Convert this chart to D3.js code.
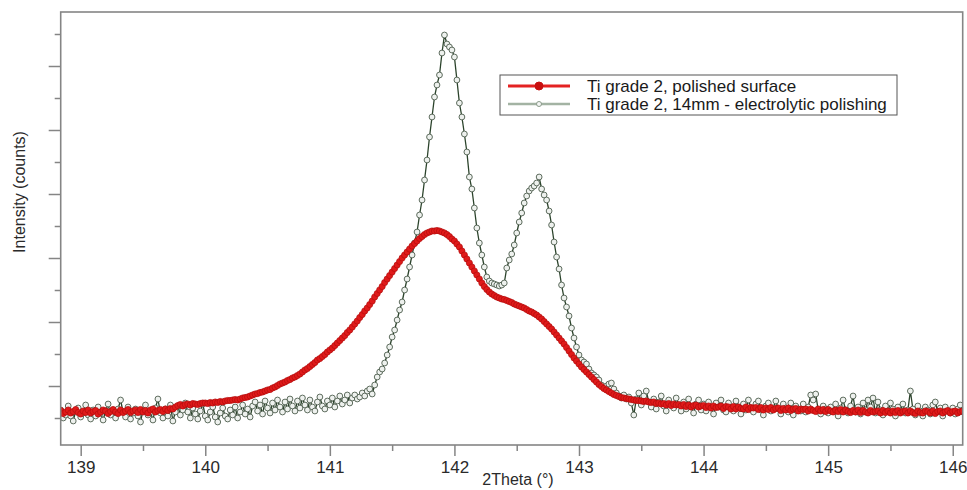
<!DOCTYPE html>
<html><head><meta charset="utf-8">
<script src="https://cdn.jsdelivr.net/npm/d3@7"></script>
<style>
body{margin:0;background:#fff}
svg{display:block}
text{font-family:"Liberation Sans",Arial,sans-serif}
</style>
</head><body>
<svg id="chart" width="967" height="490"></svg>
<script>
// ---- data ----
const twoThetaStart = 138.84;   // first measured 2Theta (°)
const twoThetaStep = 0.02;      // scan step (°)

const polishedSurface = [
345,315,330,350,320,335,355,325,310,340,
325,350,320,335,345,310,330,350,340,315,
335,355,330,315,350,325,340,355,325,340,
350,325,355,330,345,320,350,360,330,345,
355,335,360,345,365,360,380,395,405,390,
405,410,400,415,410,405,415,420,
420,415,425,420,430,425,435,430,440,445,
445,450,455,450,460,470,475,480,490,500,
510,515,525,530,540,550,555,570,580,595,
610,620,630,645,655,670,680,695,710,730,
750,765,785,805,825,850,865,885,905,930,
950,970,995,1020,1045,1070,1095,1125,1150,1180,
1210,1240,1275,1305,1340,1370,1405,1440,1480,1515,
1550,1585,1625,1660,1695,1730,1765,1800,1835,1870,
1900,1930,1960,1990,2015,2040,2065,2085,2105,2120,
2130,2140,2140,2145,2140,2130,2120,2105,2085,2060,
2040,2010,1980,1940,1900,1860,1820,1780,1740,1700,
1660,1620,1585,1555,1530,1510,1495,1480,1470,1460,
1455,1445,1435,1425,1410,1400,1390,1380,1370,1355,
1340,1330,1315,1300,1280,1260,1235,1210,1185,1160,
1130,1100,1070,1040,1010,975,940,905,870,840,
810,780,755,730,705,680,655,630,605,585,
565,550,535,520,505,495,485,475,470,465,
460,455,450,445,445,440,435,440,430,425,
430,415,420,410,415,400,415,395,410,400,
405,390,405,385,400,380,395,400,380,390,
395,375,390,370,390,375,380,390,365,385,
380,360,385,360,380,365,360,380,355,375,
370,375,355,375,350,370,355,375,350,365,
370,345,365,350,370,345,360,365,340,360,
355,360,340,360,345,335,360,340,355,335,
355,340,330,350,335,355,330,350,335,325,
345,330,350,325,345,330,320,345,330,335,
340,320,345,325,340,320,340,325,345,320,
335,340,320,340,325,315,340,325,320,340,
335,320,340,315,335,340,320,335,345,320,
335,340,320,335,340
];

const electrolyticPolishing = [
350,270,300,390,290,240,340,370,280,320,
400,300,260,350,290,380,320,250,340,410,
300,350,270,360,450,330,280,380,260,320,
360,290,230,350,400,300,330,250,370,460,
320,270,360,290,400,240,330,390,300,350,
420,330,270,370,310,260,340,410,
290,250,330,380,280,230,320,370,290,260,
350,300,380,270,330,400,310,360,280,390,
430,340,400,310,440,370,320,420,350,450,
380,330,430,360,460,390,340,440,370,470,
400,350,450,380,340,430,480,390,360,440,
400,470,380,440,490,410,450,500,420,470,
500,460,480,520,490,540,560,510,600,680,
730,760,820,900,980,1080,1150,1250,1350,1430,
1550,1660,1780,1900,2020,2130,2300,2450,2650,2850,
3080,3280,3480,3600,3700,3920,4100,4010,3980,3950,
3880,3650,3420,3280,3110,2930,2680,2560,2370,2170,
2020,1900,1780,1680,1640,1620,1610,1600,1590,1600,
1620,1770,1850,1910,2000,2120,2230,2320,2420,2490,
2540,2570,2590,2620,2680,2560,2500,2450,2340,2200,
2030,1880,1760,1600,1470,1380,1290,1170,1070,980,
900,850,830,810,760,720,700,680,650,600,
570,590,610,620,560,520,490,470,500,460,
480,420,300,460,520,400,490,540,430,380,
460,360,430,490,390,340,450,400,370,470,
400,340,430,360,460,380,320,410,450,350,
410,340,430,370,310,420,380,450,350,330,
420,370,340,440,380,310,410,350,450,370,
330,410,440,350,300,390,420,340,370,440,
360,310,410,370,330,420,300,390,360,340,
410,330,380,500,450,510,350,310,390,360,
320,380,340,410,290,370,450,350,320,390,
490,330,380,310,420,350,450,380,470,320,
430,350,300,390,340,420,360,290,380,340,
410,320,350,540,360,300,390,340,290,380,
350,310,400,430,330,370,290,380,340,320,
370,310,360,400,330
];

const seriesNames = ["Ti grade 2, polished surface", "Ti grade 2, 14mm - electrolytic polishing"];
const xTickValues = [139, 140, 141, 142, 143, 144, 145, 146];
const xMinorTickValues = [139.5, 140.5, 141.5, 142.5, 143.5, 144.5, 145.5];
const yMajorTickValues = [590, 1230, 1870, 2510, 3150, 3790];
const yMinorTickValues = [270, 910, 1550, 2190, 2830, 3470, 4110];
const xTitle = "2Theta (°)";
const yTitle = "Intensity (counts)";

// ---- layout ----
const svg = d3.select("#chart");
const L = 60.7, R = 962.7, T = 12, B = 445;
const x = d3.scaleLinear().domain([138.8395, 146.08]).range([L, R]);
const y = d3.scaleLinear().domain([0, 4330]).range([B, T]);
const frameColor = "#858585";
const font = '"Liberation Sans", Arial, sans-serif';

const toPts = arr => arr.map((v, i) => ({t: twoThetaStart + i * twoThetaStep, v}));
const red = toPts(polishedSurface);
const grn = toPts(electrolyticPolishing);

svg.append("defs").append("clipPath").attr("id", "clip")
  .append("rect").attr("x", L).attr("y", T).attr("width", R - L).attr("height", B - T);

const line = d3.line().x(d => x(d.t)).y(d => y(d.v));
const plot = svg.append("g").attr("clip-path", "url(#clip)");

// electrolytic (drawn first)
plot.append("path").datum(grn).attr("d", line)
  .attr("fill", "none").attr("stroke", "#2b432b").attr("stroke-width", 1.3);
plot.append("g").selectAll("circle").data(grn).join("circle")
  .attr("cx", d => x(d.t)).attr("cy", d => y(d.v)).attr("r", 2.9)
  .attr("fill", "#eef1ee").attr("stroke", "#4e5e4e").attr("stroke-width", 0.9);

// polished
plot.append("path").datum(red).attr("d", line)
  .attr("fill", "none").attr("stroke", "#e01818").attr("stroke-width", 1.6);
plot.append("g").selectAll("circle").data(red).join("circle")
  .attr("cx", d => x(d.t)).attr("cy", d => y(d.v)).attr("r", 3.1)
  .attr("fill", "#e01a1a").attr("stroke", "#b30c0c").attr("stroke-width", 0.7);

// axes
function styleAxis(g) {
  g.select(".domain").remove();
  g.selectAll(".tick line").attr("stroke", frameColor).attr("stroke-width", 1.5);
  g.selectAll(".tick text").attr("fill", "#2a2a2a").style("font-size", "17px").style("font-family", font);
}
svg.append("g").attr("transform", `translate(0,${B})`)
  .call(d3.axisBottom(x).tickValues(xTickValues).tickSize(11).tickPadding(5).tickFormat(d3.format("d")))
  .call(styleAxis);
svg.append("g").attr("transform", `translate(0,${B})`)
  .call(d3.axisBottom(x).tickValues(xMinorTickValues).tickSize(6).tickFormat(""))
  .call(styleAxis);
svg.append("g").attr("transform", `translate(${L},0)`)
  .call(d3.axisLeft(y).tickValues(yMajorTickValues).tickSize(12).tickFormat(""))
  .call(styleAxis);
svg.append("g").attr("transform", `translate(${L},0)`)
  .call(d3.axisLeft(y).tickValues(yMinorTickValues).tickSize(6).tickFormat(""))
  .call(styleAxis);

// frame
svg.append("rect").attr("x", L).attr("y", T).attr("width", R - L).attr("height", B - T)
  .attr("fill", "none").attr("stroke", frameColor).attr("stroke-width", 1.6);

// titles
svg.append("text").attr("x", 518).attr("y", 485).attr("text-anchor", "middle")
  .attr("fill", "#2a2a2a").style("font-size", "16px").text(xTitle);
svg.append("text").attr("transform", "translate(25,192) rotate(-90)").attr("text-anchor", "middle")
  .attr("fill", "#2a2a2a").style("font-size", "16px").text(yTitle);

// legend
const lg = svg.append("g");
lg.append("rect").attr("x", 500).attr("y", 75).attr("width", 397).attr("height", 40)
  .attr("fill", "#fff").attr("stroke", "#555").attr("stroke-width", 1);
const rows = [
  {name: seriesNames[0], y: 86, line: "#e42222", lw: 3, dot: "#c81010", r: 4, fill: "#c81010"},
  {name: seriesNames[1], y: 104, line: "#a3b3a3", lw: 2.5, dot: "#8a9a8a", r: 2.5, fill: "#f4f6f4"}
];
rows.forEach(r => {
  lg.append("line").attr("x1", 508).attr("x2", 570).attr("y1", r.y).attr("y2", r.y)
    .attr("stroke", r.line).attr("stroke-width", r.lw);
  lg.append("circle").attr("cx", 539).attr("cy", r.y).attr("r", r.r)
    .attr("fill", r.fill).attr("stroke", r.dot).attr("stroke-width", 1);
  lg.append("text").attr("x", 587).attr("y", r.y).attr("dy", "0.35em")
    .attr("fill", "#1a1a1a").style("font-size", "17px").text(r.name);
});
</script>
</body></html>
